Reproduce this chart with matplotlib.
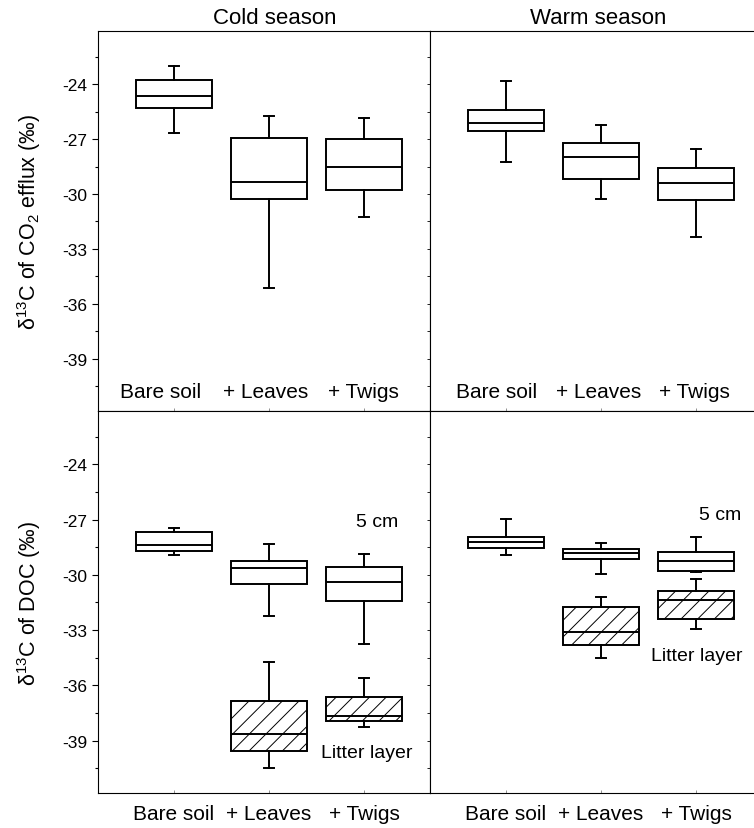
import matplotlib
matplotlib.use("Agg")
import matplotlib.pyplot as plt
from matplotlib.ticker import MultipleLocator

plt.rcParams['font.family'] = ['Liberation Sans', 'DejaVu Sans']
plt.rcParams['mathtext.fontset'] = 'custom'
plt.rcParams['mathtext.rm'] = 'Liberation Sans'
plt.rcParams['axes.unicode_minus'] = False
plt.rcParams['hatch.linewidth'] = 0.7

categories = ["Bare soil", "+ Leaves", "+ Twigs"]
seasons = ["Cold season", "Warm season"]

# CO2 efflux, cold season
co2_cold_lo = [-26.67, -35.13, -31.25]
co2_cold_q1 = [-25.31, -30.27, -29.76]
co2_cold_med = [-24.67, -29.33, -28.51]
co2_cold_q3 = [-23.76, -26.96, -27.0]
co2_cold_hi = [-23.02, -25.73, -25.84]

# CO2 efflux, warm season
co2_warm_lo = [-28.24, -30.27, -32.33]
co2_warm_q1 = [-26.58, -29.18, -30.31]
co2_warm_med = [-26.13, -28.0, -29.42]
co2_warm_q3 = [-25.42, -27.22, -28.6]
co2_warm_hi = [-23.84, -26.25, -27.53]

# DOC at 5 cm
doc_cold_lo = [-28.9, -32.22, -33.78]
doc_cold_q1 = [-28.68, -30.5, -31.44]
doc_cold_med = [-28.36, -29.64, -30.37]
doc_cold_q3 = [-27.68, -29.23, -29.59]
doc_cold_hi = [-27.47, -28.34, -28.85]

doc_warm_lo = [-28.9, -29.97, -29.85]
doc_warm_q1 = [-28.52, -29.12, -29.77]
doc_warm_med = [-28.23, -28.81, -29.23]
doc_warm_q3 = [-27.96, -28.57, -28.75]
doc_warm_hi = [-26.98, -28.25, -27.96]

# DOC in litter layer (+ Leaves, + Twigs only)
litter_cold_lo = [-40.5, -38.25]
litter_cold_q1 = [-39.57, -37.96]
litter_cold_med = [-38.66, -37.67]
litter_cold_q3 = [-36.85, -36.65]
litter_cold_hi = [-34.71, -35.62]

litter_warm_lo = [-34.53, -32.93]
litter_warm_q1 = [-33.8, -32.38]
litter_warm_med = [-33.13, -31.39]
litter_warm_q3 = [-31.77, -30.9]
litter_warm_hi = [-31.22, -30.22]


def make_stats(lo, q1, med, q3, hi):
    return [dict(whislo=a, q1=b, med=c, q3=d, whishi=e, fliers=[])
            for a, b, c, d, e in zip(lo, q1, med, q3, hi)]


def draw(ax, stats, positions, hatch=None):
    lw = 1.4
    ax.bxp(stats, positions=positions, widths=0.8, showfliers=False,
           patch_artist=True, capwidths=0.1,
           boxprops=dict(facecolor='white', edgecolor='black', linewidth=lw, hatch=hatch),
           medianprops=dict(color='black', linewidth=lw),
           whiskerprops=dict(color='black', linewidth=lw),
           capprops=dict(color='black', linewidth=lw))


W, H = 754, 829
fig = plt.figure(figsize=(W / 100, H / 100), dpi=100)

ax_tl = fig.add_axes([98 / W, 1 - 412 / H, 332 / W, 380 / H])
ax_tr = fig.add_axes([430 / W, 1 - 412 / H, 324 / W, 380 / H])
ax_bl = fig.add_axes([98 / W, 1 - 794 / H, 332 / W, 382 / H])
ax_br = fig.add_axes([430 / W, 1 - 794 / H, 324 / W, 382 / H])

pos = [1, 2, 3]
draw(ax_tl, make_stats(co2_cold_lo, co2_cold_q1, co2_cold_med, co2_cold_q3, co2_cold_hi), pos)
draw(ax_tr, make_stats(co2_warm_lo, co2_warm_q1, co2_warm_med, co2_warm_q3, co2_warm_hi), pos)
draw(ax_bl, make_stats(doc_cold_lo, doc_cold_q1, doc_cold_med, doc_cold_q3, doc_cold_hi), pos)
draw(ax_br, make_stats(doc_warm_lo, doc_warm_q1, doc_warm_med, doc_warm_q3, doc_warm_hi), pos)
draw(ax_bl, make_stats(litter_cold_lo, litter_cold_q1, litter_cold_med, litter_cold_q3, litter_cold_hi), [2, 3], hatch='//')
draw(ax_br, make_stats(litter_warm_lo, litter_warm_q1, litter_warm_med, litter_warm_q3, litter_warm_hi), [2, 3], hatch='//')

for ax in (ax_tl, ax_tr, ax_bl, ax_br):
    ax.set_ylim(-41.85, -21.1)
    ax.yaxis.set_major_locator(MultipleLocator(3))
    ax.yaxis.set_minor_locator(MultipleLocator(1.5))
    for s in ax.spines.values():
        s.set_linewidth(0.8)
    ax.set_xticks(pos)
    ax.tick_params(axis='x', direction='in', length=2, width=0.5, color='0.4')

for ax in (ax_tl, ax_bl):
    ax.set_xlim(0.2, 3.695)
    ax.tick_params(axis='y', which='major', direction='out', length=4, width=0.8, labelsize=12.5)
    ax.tick_params(axis='y', which='minor', direction='out', length=2.5, width=0.8)
    ax.yaxis.set_label_coords(-0.165, 0.5)

for ax in (ax_tr, ax_br):
    ax.set_xlim(0.2, 3.61)
    ax.spines['right'].set_visible(False)
    ax.tick_params(axis='y', which='both', direction='out', length=2, width=0.6, labelleft=False)

ax_tl.set_ylabel('δ$^{13}$C of CO$_2$ efflux (‰)', fontsize=15.5)
ax_bl.set_ylabel('δ$^{13}$C of DOC (‰)', fontsize=15.5)

# category labels inside top panels, below bottom panels
for ax in (ax_tl, ax_tr):
    ax.set_xticklabels([])
ax_tl_x = [0.86, 1.96, 2.99]
ax_tr_x = [0.9, 1.97, 2.98]
for x, c in zip(ax_tl_x, categories):
    ax_tl.text(x, -40.8, c, ha='center', va='center', fontsize=15)
for x, c in zip(ax_tr_x, categories):
    ax_tr.text(x, -40.8, c, ha='center', va='center', fontsize=15)
for ax in (ax_bl, ax_br):
    ax.set_xticklabels(categories, fontsize=15)
    ax.tick_params(axis='x', pad=8)

ax_tl.annotate(seasons[0], xy=(0.533, 1), xycoords='axes fraction', xytext=(0, 9.5),
               textcoords='offset points', ha='center', va='center', fontsize=16)
ax_tr.annotate(seasons[1], xy=(0.519, 1), xycoords='axes fraction', xytext=(0, 9.5),
               textcoords='offset points', ha='center', va='center', fontsize=16)

ax_bl.text(3.14, -27.1, '5 cm', ha='center', va='center', fontsize=14)
ax_br.text(3.25, -26.7, '5 cm', ha='center', va='center', fontsize=14)
ax_bl.text(3.03, -39.65, 'Litter layer', ha='center', va='center', fontsize=14)
ax_br.text(3.01, -34.4, 'Litter layer', ha='center', va='center', fontsize=14)

fig.savefig('out.png', dpi=100)
